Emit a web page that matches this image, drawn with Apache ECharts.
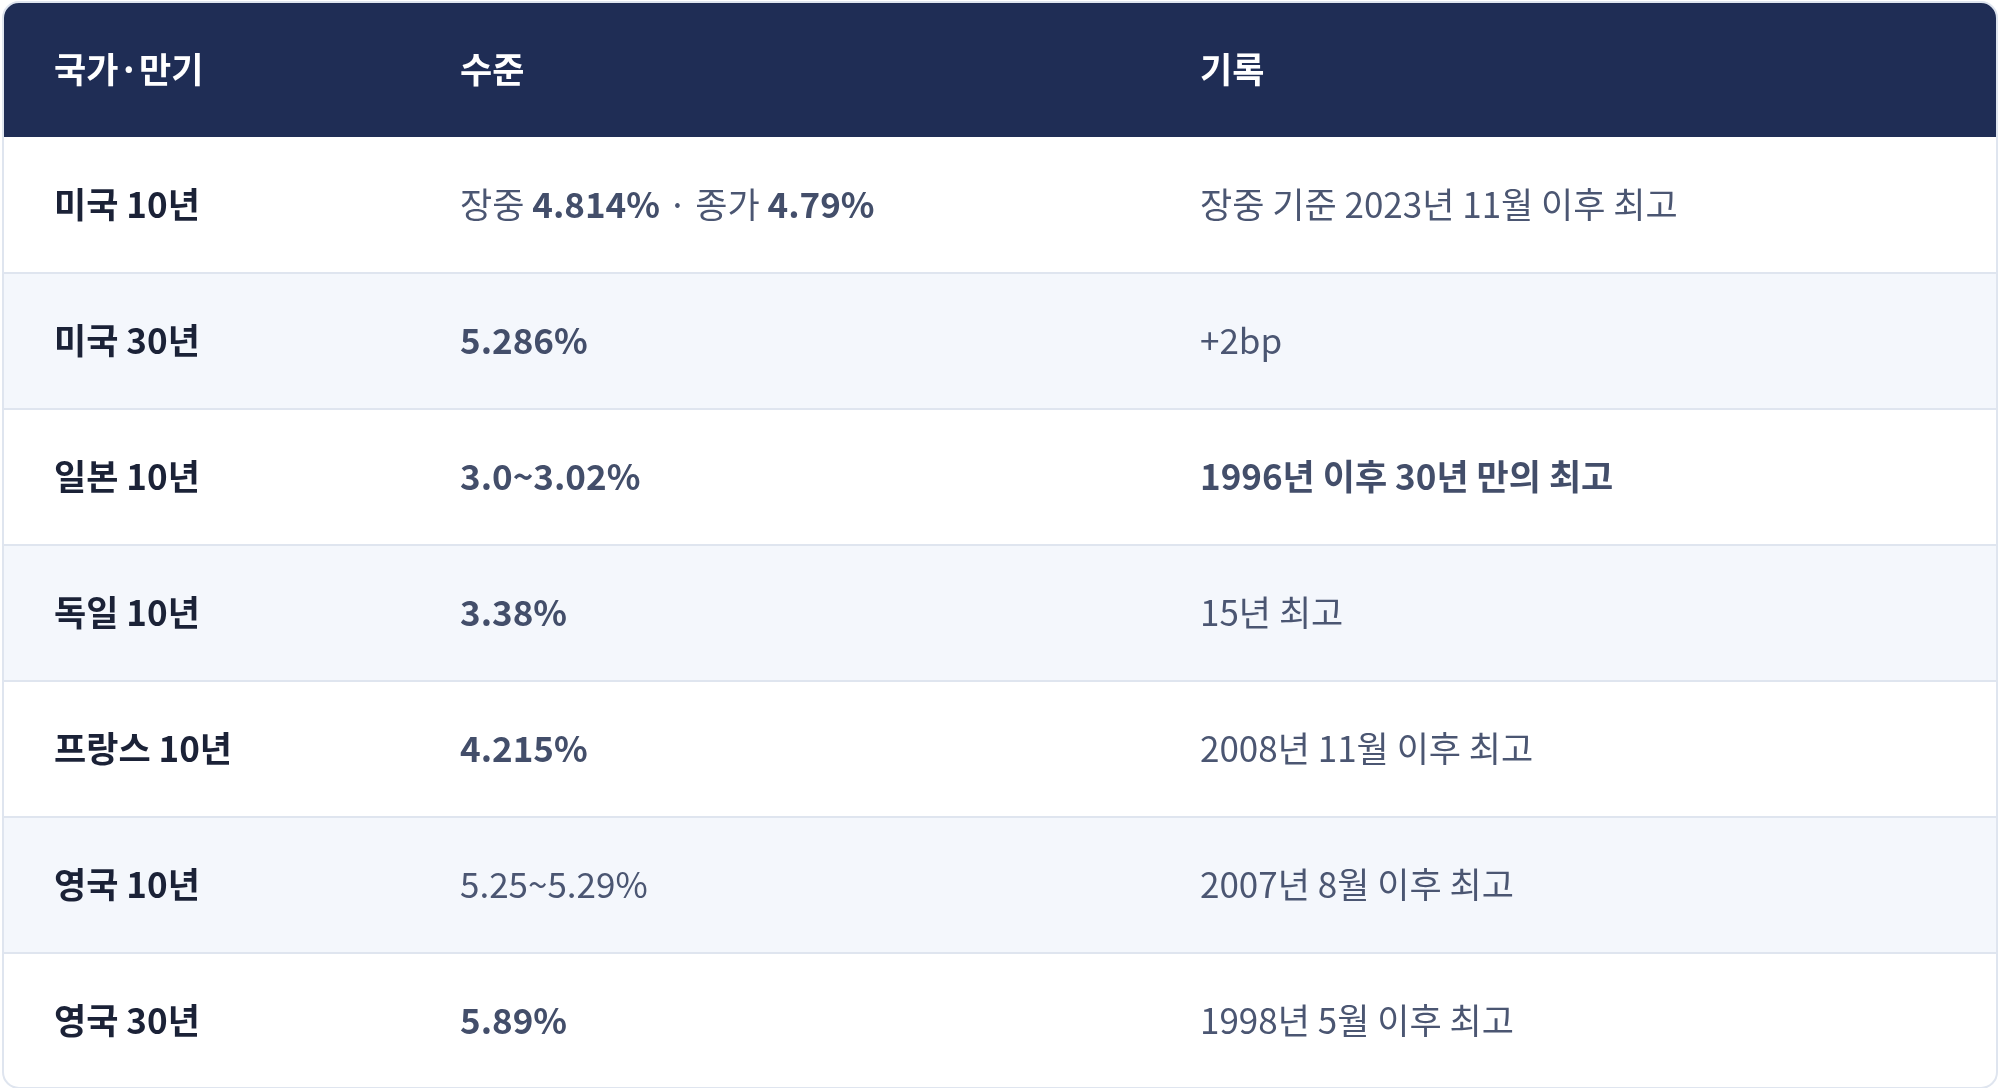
<!DOCTYPE html>
<html>
<head>
<meta charset="utf-8">
<script src="https://cdn.jsdelivr.net/npm/echarts@6/dist/echarts.min.js"></script>
<style>
html,body{margin:0;padding:0;background:#fff;}
#main{width:2000px;height:1088px;}
</style>
</head>
<body>
<div id="main"></div>
<script>
// 표 데이터
var headers = ["국가·만기", "수준", "기록"];
var countries = ["미국 10년", "미국 30년", "일본 10년", "독일 10년", "프랑스 10년", "영국 10년", "영국 30년"];
// {b|..} 굵게, {n|..} 보통
var levels = [
  "{n|장중 }{b|4.814%}{n| · 종가 }{b|4.79%}",
  "{b|5.286%}",
  "{b|3.0~3.02%}",
  "{b|3.38%}",
  "{b|4.215%}",
  "{n|5.25~5.29%}",
  "{b|5.89%}"
];
var records = [
  "{n|장중 기준 2023년 11월 이후 최고}",
  "{n|+2bp}",
  "{b|1996년 이후 30년 만의 최고}",
  "{n|15년 최고}",
  "{n|2008년 11월 이후 최고}",
  "{n|2007년 8월 이후 최고}",
  "{n|1998년 5월 이후 최고}"
];

var chart = echarts.init(document.getElementById("main"));
var W = 2000, left = 3, right = 1997, headH = 135, rowH = 136;
var colX = [54, 460, 1200];
var font = "'Noto Sans CJK KR', 'Noto Sans', sans-serif";
var rich = {
  b: { fontFamily: font, fontSize: 35, fontWeight: "bold", fill: "#434e6a" },
  n: { fontFamily: font, fontSize: 35, fontWeight: "normal", fill: "#4b5672" }
};
var els = [];

// 헤더
els.push({ type: "rect", shape: { x: left, y: 2, width: right - left, height: headH, r: [16, 16, 0, 0] },
  style: { fill: "#1f2d55" } });
for (var h = 0; h < headers.length; h++) {
  els.push({ type: "text", x: colX[h], y: 2 + headH / 2, style: {
    text: headers[h], fontFamily: font, fontSize: 35, fontWeight: "bold", fill: "#ffffff", verticalAlign: "middle" } });
}

// 행
for (var i = 0; i < countries.length; i++) {
  var y = 2 + headH + i * rowH;
  els.push({ type: "rect", shape: { x: left, y: y, width: right - left, height: rowH, r: i == countries.length - 1 ? [0, 0, 14, 14] : 0 },
    style: { fill: i % 2 == 1 ? "#f4f7fc" : "#ffffff" } });
  if (i > 0) {
    els.push({ type: "line", shape: { x1: left, y1: y, x2: right, y2: y }, style: { stroke: "#dfe5ef", lineWidth: 2 } });
  }
  var cy = y + rowH / 2;
  els.push({ type: "text", x: colX[0], y: cy, style: {
    text: countries[i], fontFamily: font, fontSize: 35, fontWeight: "bold", fill: "#1b2237", verticalAlign: "middle" } });
  els.push({ type: "text", x: colX[1], y: cy, style: { text: levels[i], rich: rich, verticalAlign: "middle" } });
  els.push({ type: "text", x: colX[2], y: cy, style: { text: records[i], rich: rich, verticalAlign: "middle" } });
}

// 외곽선
els.push({ type: "rect", shape: { x: left, y: 2, width: right - left, height: headH + rowH * countries.length - 1, r: 16 },
  style: { fill: "none", stroke: "#dfe5ef", lineWidth: 2 } });

chart.setOption({ graphic: { elements: els } });
</script>
</body>
</html>
